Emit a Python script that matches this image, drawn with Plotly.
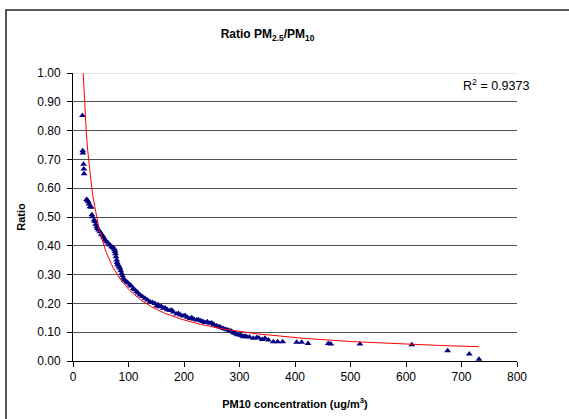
import numpy as np
import plotly.graph_objects as go

# ---- data ----
pm10 = [
    17.0, 17.5, 17.8, 19.0, 19.5, 20.0,
    24.5, 26.0, 27.5, 29.0, 30.5, 33.0, 34.0, 35.0,
    38.0, 39.6, 41.0, 42.6, 44.0, 46.0, 48.6, 51.0, 53.5, 55.5, 57.7, 60.5,
    63.6, 66.5, 69.7, 72.0, 73.9, 75.0, 75.7, 76.5, 77.5, 78.7, 79.5, 80.5,
    81.6, 83.0, 84.7, 86.0, 87.7, 89.0, 90.6, 93.0, 96.7, 99.0, 102.7, 105.0,
    108.6, 111.0, 114.8, 117.0, 120.7, 125.0, 129.7, 134.0, 138.7, 143.0, 147.7,
    150.8, 153.0, 156.0, 159.0, 162.7, 166.0, 170.0, 174.8, 178.0, 181.0,
    186.8, 190.0, 194.0, 198.7, 202.0, 206.0, 210.8, 214.0, 218.0, 222.9,
    226.0, 230.0, 234.0, 237.8, 242.0, 246.8, 250.0, 254.0, 258.9, 263.0,
    266.0, 270.8, 275.0, 279.0, 282.9, 286.0, 289.0, 291.9, 295.0, 297.0,
    300.9, 304.0, 306.9, 310.0, 313.0, 318.0, 324.9, 331.0, 335.0, 341.0,
    346.0, 352.0, 361.0, 368.8, 377.8, 403.0, 412.0, 423.5, 460.0, 464.5,
    517.0, 610.5, 675.0, 714.0, 731.5,
]
ratio = [
    0.852, 0.730, 0.722, 0.683, 0.667, 0.650,
    0.561, 0.558, 0.553, 0.545, 0.536, 0.534, 0.508, 0.501,
    0.490, 0.484, 0.475, 0.466, 0.460, 0.455, 0.449, 0.440, 0.435, 0.428, 0.420, 0.414,
    0.409, 0.403, 0.397, 0.394, 0.391, 0.386, 0.380, 0.372, 0.362, 0.351, 0.342, 0.336,
    0.333, 0.327, 0.322, 0.313, 0.304, 0.296, 0.287, 0.280, 0.275, 0.271, 0.264, 0.260,
    0.252, 0.247, 0.241, 0.236, 0.229, 0.224, 0.218, 0.212, 0.206, 0.203, 0.200,
    0.191, 0.195, 0.188, 0.190, 0.183, 0.184, 0.178, 0.175, 0.176, 0.170,
    0.163, 0.165, 0.160, 0.156, 0.158, 0.152, 0.148, 0.150, 0.145, 0.142,
    0.143, 0.140, 0.137, 0.134, 0.136, 0.131, 0.132, 0.127, 0.122, 0.119,
    0.117, 0.113, 0.110, 0.108, 0.105, 0.103, 0.098, 0.096, 0.094, 0.091,
    0.090, 0.088, 0.084, 0.086, 0.084, 0.083, 0.079, 0.082, 0.080, 0.075,
    0.079, 0.073, 0.067, 0.067, 0.067, 0.065, 0.065, 0.061, 0.061, 0.059,
    0.059, 0.056, 0.036, 0.024, 0.006,
]
# power trend line y = a * x^b, coefficients
trend_a = 10.4
trend_b = -0.81
r_squared_label = "R<sup>2</sup> = 0.9373"
x_ticks = [0, 100, 200, 300, 400, 500, 600, 700, 800]
y_ticks = [0.0, 0.1, 0.2, 0.3, 0.4, 0.5, 0.6, 0.7, 0.8, 0.9, 1.0]

trend_x = np.linspace(min(pm10), max(pm10), 300)
trend_y = trend_a * trend_x ** trend_b

W, H = 569, 419
L, R, T, B = 73, 52, 73, 58
pw, ph = W - L - R, H - T - B

def px(xp):
    return (xp - L) / pw

def py(yp):
    return (H - B - yp) / ph

font = "Liberation Sans, Arial, sans-serif"

fig = go.Figure()
fig.add_trace(go.Scatter(
    x=pm10, y=ratio, mode="markers",
    marker=dict(symbol="triangle-up", size=6, color="#000080", line=dict(width=0)),
    showlegend=False, hoverinfo="x+y",
))
fig.add_trace(go.Scatter(
    x=trend_x, y=trend_y, mode="lines",
    line=dict(color="#ff0000", width=1), showlegend=False, hoverinfo="skip",
))

fig.update_layout(
    width=W, height=H,
    margin=dict(l=L, r=R, t=T, b=B, pad=0),
    paper_bgcolor="white", plot_bgcolor="white",
    font=dict(family=font, size=12, color="black"),
    showlegend=False,
    title=dict(
        text="<b>Ratio PM<sub>2.5</sub>/PM<sub>10</sub></b>",
        x=px(267.5), xref="paper", xanchor="center",
        y=1 - 34 / H, yref="container", yanchor="middle",
        font=dict(family=font, size=12, color="black"),
    ),
    xaxis=dict(
        range=[0, 800], tickvals=x_ticks, ticktext=[str(v) for v in x_ticks],
        showgrid=False, zeroline=False,
        showline=True, linecolor="black", linewidth=1,
        ticks="outside", ticklen=5, tickcolor="black",
        tickfont=dict(size=12),
        title=dict(text="<b>PM10 concentration (ug/m<sup>3</sup>)</b>",
                   font=dict(size=11), standoff=16),
    ),
    yaxis=dict(
        range=[0, 1.0], tickvals=y_ticks, tickformat=".2f",
        showgrid=True, gridcolor="#505050", gridwidth=1,
        zeroline=False,
        showline=True, linecolor="black", linewidth=1,
        ticks="outside", ticklen=5, tickcolor="black",
        ticklabelstandoff=4,
        tickfont=dict(size=12),
        title=dict(text="<b>Ratio</b>", font=dict(size=11), standoff=9),
    ),
    shapes=[
        dict(type="line", xref="paper", yref="y", x0=0, x1=1, y0=1.0, y1=1.0,
             line=dict(color="#c8c8c8", width=1), layer="above"),
        dict(type="rect", xref="paper", yref="paper",
             x0=px(6), x1=px(580), y0=py(10), y1=py(430),
             line=dict(color="#222222", width=1.5), layer="below"),
    ],
    annotations=[
        dict(text=r_squared_label, xref="paper", yref="paper",
             x=px(531), y=py(85), xanchor="right", yanchor="middle",
             showarrow=False, font=dict(family=font, size=12.5, color="black")),
    ],
)

fig.write_html("out.html", config={"displayModeBar": False},
               post_script="document.body.style.margin='0';")
